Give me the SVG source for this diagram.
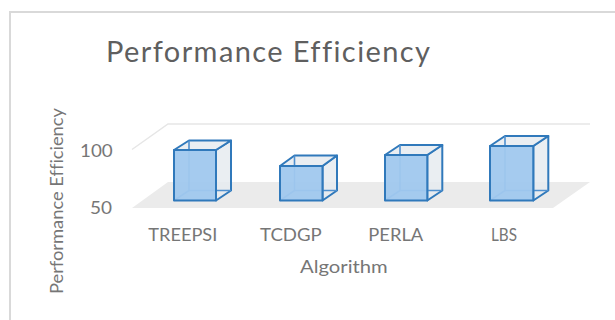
<svg xmlns="http://www.w3.org/2000/svg" width="615" height="320" viewBox="0 0 615 320">
<style>
text{font-variant-ligatures:none;font-feature-settings:"liga" 0}
.lbl{font-family:Lato,"Open Sans","Liberation Sans",sans-serif;fill:#767676;font-size:18px}
.ttl{font-family:Lato,"Open Sans","Liberation Sans",sans-serif;fill:#5f5f5f;font-size:29px}
.side{fill:#e6ebf0;fill-opacity:0.85;stroke:#3079bb;stroke-width:2;stroke-linejoin:round}
.front{fill:#a0c8ee;fill-opacity:0.95;stroke:#3079bb;stroke-width:2;stroke-linejoin:round}
.hid{fill:none;stroke:#4f90cf;stroke-width:1.6}
</style>
<rect x="10" y="12" width="700" height="400" fill="#fff" stroke="#d9d9d9" stroke-width="2"/>
<g id="title"><text class="ttl" x="106" y="62" textLength="324" lengthAdjust="spacing">Performance Efficiency</text></g>
<g id="plot">
  <polygon points="132,208 168,182 590,182 553,208" fill="#ebebeb"/>
  <polyline points="132,149.5 168,124 590,124" fill="none" stroke="#e6e6e6" stroke-width="1.5"/>
</g>
<g id="axis-y">
  <text class="lbl" x="80" y="157" textLength="32.7" lengthAdjust="spacingAndGlyphs">100</text>
  <text class="lbl" x="90" y="214" textLength="22" lengthAdjust="spacingAndGlyphs">50</text>
  <text class="lbl" transform="translate(63.3,201) rotate(-90)" x="-93" y="0" textLength="186" lengthAdjust="spacingAndGlyphs">Performance Efficiency</text>
</g>
<g id="axis-x">
  <text class="lbl" x="148.3" y="240.5" textLength="69" lengthAdjust="spacingAndGlyphs">TREEPSI</text>
  <text class="lbl" x="260" y="240.5" textLength="61.7" lengthAdjust="spacingAndGlyphs">TCDGP</text>
  <text class="lbl" x="368.3" y="240.5" textLength="55" lengthAdjust="spacingAndGlyphs">PERLA</text>
  <text class="lbl" x="491" y="240.5" textLength="26" lengthAdjust="spacingAndGlyphs">LBS</text>
  <text class="lbl" x="300" y="272.7" textLength="87.7" lengthAdjust="spacingAndGlyphs">Algorithm</text>
</g>
<g id="bar-treepsi">
  <polygon class="side" points="216,150 231,140.5 231,190.5 216,200.5"/>
  <polygon class="side" points="174,150 189,140.5 231,140.5 216,150"/>
  <polyline class="hid" points="189,140.5 189,190.5 231,190.5"/>
  <line class="hid" x1="174" y1="200.5" x2="189" y2="190.5"/>
  <rect class="front" x="174" y="150" width="42" height="50.5"/>
</g>
<g id="bar-tcdgp">
  <polygon class="side" points="322.5,166 337,155.5 337,190.5 322.5,200.5"/>
  <polygon class="side" points="280,166 294.5,155.5 337,155.5 322.5,166"/>
  <polyline class="hid" points="294.5,155.5 294.5,190.5 337,190.5"/>
  <line class="hid" x1="280" y1="200.5" x2="294.5" y2="190.5"/>
  <rect class="front" x="280" y="166" width="42.5" height="34.5"/>
</g>
<g id="bar-perla">
  <polygon class="side" points="427.3,155 442.3,145 442.3,190.5 427.3,200.5"/>
  <polygon class="side" points="385,155 400,145 442.3,145 427.3,155"/>
  <polyline class="hid" points="400,145 400,190.5 442.3,190.5"/>
  <line class="hid" x1="385" y1="200.5" x2="400" y2="190.5"/>
  <rect class="front" x="385" y="155" width="42.3" height="45.5"/>
</g>
<g id="bar-lbs">
  <polygon class="side" points="533.3,146 548.3,136 548.3,190.5 533.3,200.5"/>
  <polygon class="side" points="490,146 505,136 548.3,136 533.3,146"/>
  <polyline class="hid" points="505,136 505,190.5 548.3,190.5"/>
  <line class="hid" x1="490" y1="200.5" x2="505" y2="190.5"/>
  <rect class="front" x="490" y="146" width="43.3" height="54.5"/>
</g>
<g id="connectors"/>
</svg>
